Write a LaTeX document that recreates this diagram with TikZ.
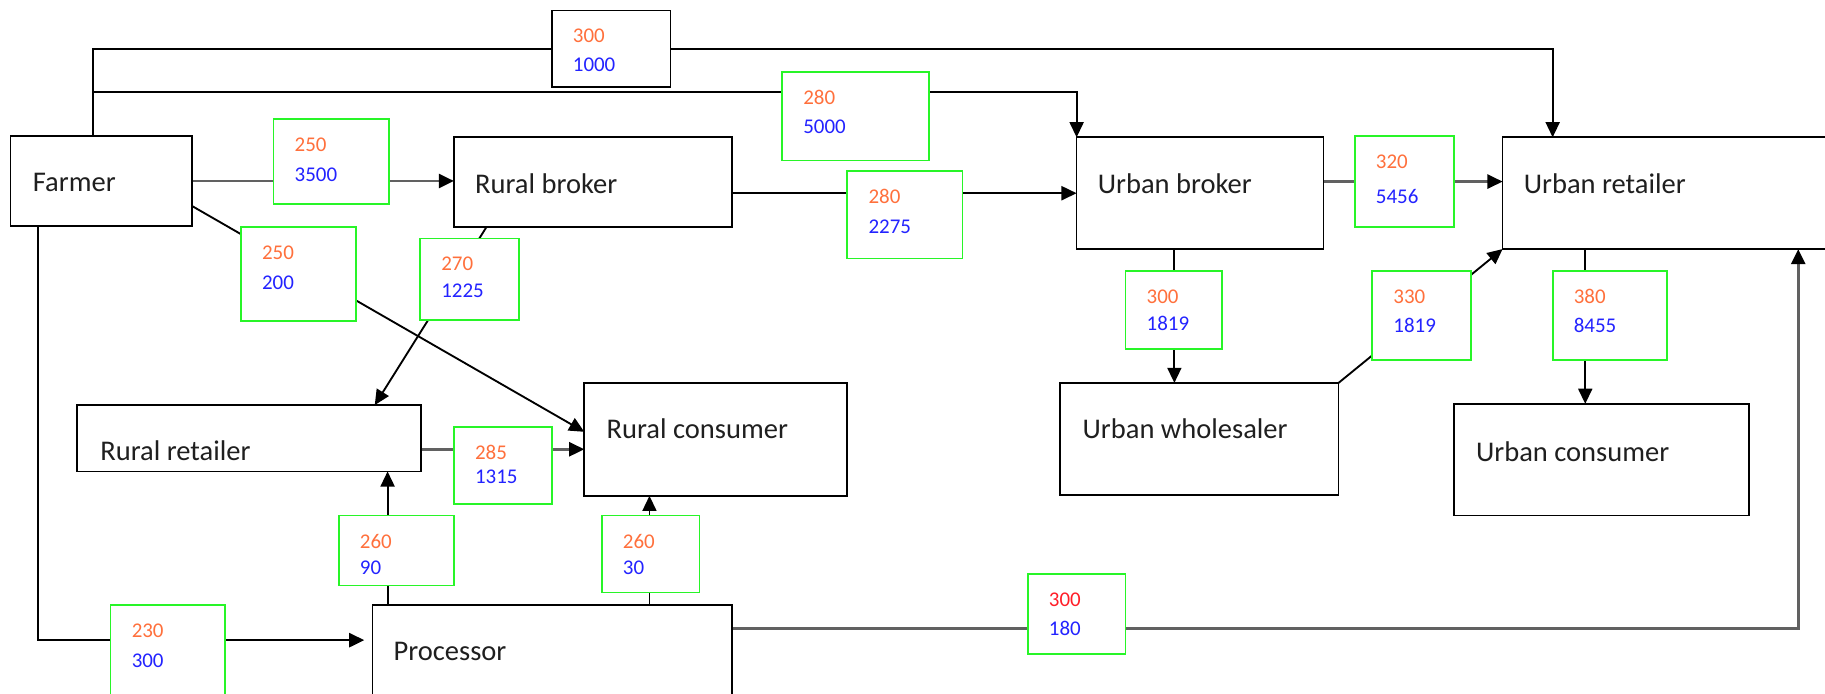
\documentclass[tikz,border=0pt]{standalone}
\usepackage{fontspec}
\setmainfont{Carlito}
\usetikzlibrary{arrows.meta}
\definecolor{numorange}{RGB}{255,112,60}
\definecolor{numblue}{RGB}{35,35,255}
\definecolor{numred}{RGB}{255,30,40}
\definecolor{flowgreen}{RGB}{40,245,40}
\pgfdeclarelayer{bg}
\pgfsetlayers{bg,main}
\tikzset{
  actor/.style={draw=black, line width=1.5pt, outer sep=0pt, inner sep=0pt},
  actortext/.style={inner sep=0pt, text=black!88, font=\fontsize{24.5}{28}\selectfont},
  flow/.style={draw=flowgreen, fill=white, line width=1.5pt, outer sep=0pt, inner sep=0pt},
  tally/.style={draw=black, fill=white, line width=1.5pt, outer sep=0pt, inner sep=0pt},
  num/.style={inner sep=0pt, font=\fontsize{18}{20}\selectfont},
  conn/.style={draw=black, line width=1.6pt},
  conna/.style={conn, -{Triangle[length=13pt,width=12pt,color=black]}},
  heavy/.style={draw=black!62, line width=2.3pt}
}
% box given by its corners: style, name, x1, y1, x2, y2, price, quantity, offset of second line
\newcommand\flowbox[9]{%
  \pgfmathsetmacro\fbw{#5-#3}%
  \pgfmathsetmacro\fbh{#6-#4}%
  \node[#1, minimum width=\fbw pt, minimum height=\fbh pt] (#2) at ({(#3+#5)/2},{(#4+#6)/2}) {};
  \node[num, anchor=west] (#2a) at ({#3+18},{#4+22}) {#7};
  \node[num, anchor=west] (#2b) at ({#3+18},{#4+#9}) {#8};
}
\newcommand\actorbox[5]{%
  \pgfmathsetmacro\abw{#4-#2}%
  \pgfmathsetmacro\abh{#5-#3}%
  \node[actor, minimum width=\abw pt, minimum height=\abh pt] (#1) at ({(#2+#4)/2},{(#3+#5)/2}) {};
}
\begin{document}
\begin{tikzpicture}[x=1pt, y=-1pt]
\useasboundingbox (0,0) rectangle (1568,596);
\begin{scope}
\clip (0,0) rectangle (1568,596);

% market actors
\actorbox{farmer}{9}{117}{165}{194}
\actorbox{rbroker}{390}{118}{629}{195}
\actorbox{ubroker}{925}{118}{1137}{214}
\actorbox{uretail}{1291}{118}{1620}{214}
\actorbox{rretail}{66}{348}{362}{405}
\actorbox{rcons}{502}{329}{728}{426}
\actorbox{uwhole}{911}{329}{1150}{425}
\actorbox{ucons}{1249}{347}{1503}{443}
\actorbox{proc}{320}{520}{629}{640}

\node[actortext, anchor=west] (farmer-t) at (28,157) {Farmer};
\node[actortext, anchor=west] (rbroker-t) at (408,158) {Rural broker};
\node[actortext, anchor=west] (ubroker-t) at (943,158) {Urban broker};
\node[actortext, anchor=west] (uretail-t) at (1309,158) {Urban retailer};
\node[actortext, anchor=west] (rretail-t) at (86,387) {Rural retailer};
\node[actortext, anchor=west] (rcons-t) at (521,368) {Rural consumer};
\node[actortext, anchor=west] (uwhole-t) at (930,368) {Urban wholesaler};
\node[actortext, anchor=west] (ucons-t) at (1268,388) {Urban consumer};
\node[actortext, anchor=west] (proc-t) at (338,560) {Processor};

% price / quantity boxes
\flowbox{tally}{direct}{474}{9}{576}{75}{\color{numorange}300}{\color{numblue}1000}{47}
\flowbox{flow}{g1}{235}{102}{334}{175}{\color{numorange}250}{\color{numblue}3500}{48}
\flowbox{flow}{g2}{207}{195}{306}{276}{\color{numorange}250}{\color{numblue}200}{48}
\flowbox{flow}{g3}{361}{205}{446}{275}{\color{numorange}270}{\color{numblue}1225}{45}
\flowbox{flow}{g4}{672}{62}{798}{138}{\color{numorange}280}{\color{numblue}5000}{47}
\flowbox{flow}{g5}{728}{147}{827}{222}{\color{numorange}280}{\color{numblue}2275}{48}
\flowbox{flow}{g6}{1164}{117}{1249}{195}{\color{numorange}320}{\color{numblue}5456}{52}
\flowbox{flow}{g7}{967}{233}{1050}{300}{\color{numorange}300}{\color{numblue}1819}{45}
\flowbox{flow}{g8}{1179}{233}{1264}{309}{\color{numorange}330}{\color{numblue}1819}{47}
\flowbox{flow}{g9}{1334}{233}{1432}{309}{\color{numorange}380}{\color{numblue}8455}{47}
\flowbox{flow}{g10}{390}{367}{474}{433}{\color{numorange}285}{\color{numblue}1315}{43}
\flowbox{flow}{g11}{291}{443}{390}{503}{\color{numorange}260}{\color{numblue}90}{45}
\flowbox{flow}{g12}{517}{443}{601}{509}{\color{numorange}260}{\color{numblue}30}{45}
\flowbox{flow}{g13}{95}{520}{193}{600}{\color{numorange}230}{\color{numblue}300}{48}
\flowbox{flow}{g14}{883}{493}{967}{562}{\color{numred}300}{\color{numblue}180}{47}
\end{scope}

% connectors run behind the price boxes
\begin{pgfonlayer}{bg}
% Farmer -> Rural broker
\draw[conna, heavy] (farmer.east) -- (farmer.east -| rbroker.west);
% Farmer -> Rural consumer
\draw[conna] ([yshift=-21.5pt]farmer.east) -- ([yshift=6.5pt]rcons.west);
% Rural broker -> Rural retailer
\draw[conna] ([xshift=28pt]rbroker.south west) -- ([xshift=256pt]rretail.north west);
% Rural broker -> Urban broker
\draw[conna, line width=1.9pt] (ubroker.west -| rbroker.east) -- (ubroker.west);
% Farmer -> Urban retailer
\coordinate (ftop) at ([xshift=71pt]farmer.north west);
\draw[conn] (ftop) |- (direct.west);
\draw[conna] (direct.east) -| ([xshift=43pt]uretail.north west);
% Farmer -> Urban broker
\draw[conna] ([yshift=38pt]ftop) -| (ubroker.north west);
% Urban broker -> Urban retailer
\draw[conna, heavy] ([yshift=10pt]ubroker.east) -- ([yshift=10pt]uretail.west);
% Urban broker -> Urban wholesaler
\coordinate (ubs) at ([xshift=-22pt]ubroker.south);
\draw[conna] (ubs) -- (ubs |- uwhole.north);
% Urban wholesaler -> Urban retailer
\draw[conna] (uwhole.north east) -- (uretail.south west);
% Urban retailer -> Urban consumer
\coordinate (urs) at ([xshift=71pt]uretail.south west);
\draw[conna] (urs) -- (urs |- ucons.north);
% Rural retailer -> Rural consumer
\coordinate (rre) at ([yshift=-9.5pt]rretail.east);
\draw[conna, heavy] (rre) -- (rre -| rcons.west);
% Processor -> Rural retailer
\coordinate (pn1) at ([xshift=13pt]proc.north west);
\draw[conna] (pn1) -- (pn1 |- rretail.south);
% Processor -> Rural consumer
\coordinate (pn2) at ([xshift=238pt]proc.north west);
\draw[conna] (pn2) -- (pn2 |- rcons.south);
% Farmer -> Processor
\coordinate (fbot) at ([xshift=24pt]farmer.south west);
\draw[conn] (fbot) |- (g13.west |- 0,550);
\draw[conna, line width=2.3pt, shorten >=7pt] (g13.east |- 0,550) -- ([yshift=30pt]proc.west);
% Processor -> Urban retailer
\draw[conna, heavy] ([yshift=40pt]proc.east) -| ([xshift=254pt]uretail.south west);
\end{pgfonlayer}
\end{tikzpicture}
\end{document}
